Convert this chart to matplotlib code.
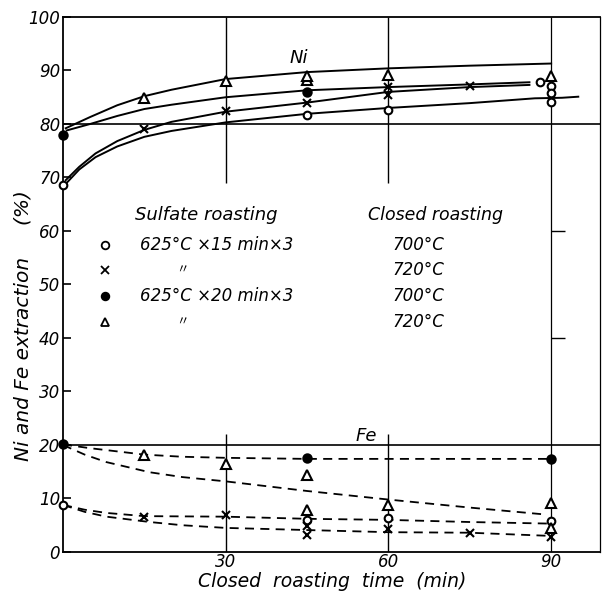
import matplotlib
matplotlib.use('Agg')
from matplotlib import pyplot as plt

# --- measured points (Ni, upper group) ---
ni_open_x = [0, 45, 60, 88, 90, 90, 90]
ni_open_y = [68.6, 81.7, 82.6, 87.9, 87.1, 85.8, 84.1]
ni_cross_x = [15, 30, 45, 60, 60, 75]
ni_cross_y = [79.0, 82.4, 83.9, 85.4, 86.9, 87.1]
ni_dot_x = [0, 45]
ni_dot_y = [78.0, 86.0]
ni_tri_x = [15, 30, 45, 45, 60, 90]
ni_tri_y = [84.8, 88.0, 88.2, 89.0, 89.2, 89.0]

# --- measured points (Fe, lower group) ---
fe_open_x = [0, 45, 60, 90]
fe_open_y = [8.8, 6.0, 6.4, 5.8]
fe_cross_x = [15, 30, 45, 45, 60, 75, 90]
fe_cross_y = [6.5, 7.0, 4.9, 3.2, 4.3, 3.6, 2.8]
fe_dot_x = [0, 45, 90]
fe_dot_y = [20.2, 17.5, 17.4]
fe_tri_x = [15, 30, 45, 45, 60, 90, 90]
fe_tri_y = [18.1, 16.4, 14.4, 7.9, 8.7, 9.2, 4.5]

# --- hand drawn curves ---
ni_c1_x = [0.5, 5, 10, 15, 20, 30, 45, 60, 75, 90]
ni_c1_y = [79.2, 81.3, 83.5, 85.2, 86.4, 88.4, 89.7, 90.4, 90.9, 91.3]
ni_c2_x = [0.7, 5, 10, 15, 20, 30, 45, 60, 75, 86]
ni_c2_y = [78.8, 80.0, 81.5, 82.8, 83.6, 85.0, 86.3, 86.9, 87.4, 87.8]
ni_c3_x = [0.5, 3, 6, 10, 15, 20, 30, 45, 60, 75, 86]
ni_c3_y = [69.5, 72.0, 74.5, 76.8, 78.9, 80.4, 82.3, 84.0, 86.0, 86.9, 87.3]
ni_c4_x = [0.5, 3, 6, 10, 15, 20, 30, 45, 60, 75, 87, 92, 95]
ni_c4_y = [68.8, 71.5, 73.8, 75.8, 77.6, 78.7, 80.3, 81.9, 83.0, 83.9, 84.8, 84.9, 85.1]

fe_c1_x = [0, 5, 10, 15, 22, 30, 45, 60, 75, 90]
fe_c1_y = [20.1, 19.4, 18.8, 18.2, 17.8, 17.6, 17.4, 17.4, 17.4, 17.4]
fe_c2_x = [0, 4, 8, 16, 22, 30, 45, 60, 75, 89]
fe_c2_y = [20.0, 18.2, 16.8, 14.9, 14.0, 13.2, 11.4, 9.8, 8.3, 7.0]
fe_c3_x = [0, 4, 8, 15, 30, 45, 60, 75, 90]
fe_c3_y = [8.8, 7.9, 7.3, 6.7, 6.6, 6.2, 6.0, 5.6, 5.3]
fe_c4_x = [0, 4, 8, 16, 22, 30, 45, 60, 75, 90]
fe_c4_y = [8.8, 7.5, 6.6, 5.6, 5.0, 4.5, 4.1, 3.7, 3.6, 3.0]

y_ticks = [0, 10, 20, 30, 40, 50, 60, 70, 80, 90, 100]
x_ticks = [30, 60, 90]

legend_sulfate = ['625°C ×15 min×3', '〃', '625°C ×20 min×3', '〃']
legend_closed = ['700°C', '720°C', '700°C', '720°C']
legend_marker = ['o', 'x', 'o', '^']
legend_fill = ['white', 'black', 'black', 'white']

plt.rcParams['font.family'] = ['DejaVu Sans']
plt.rcParams['font.style'] = 'italic'

fig = plt.figure(figsize=(6.04, 5.92), dpi=100)
ax = fig.add_axes([0.1043, 0.0676, 0.889, 0.9037])
ax.set_xlim(0, 99)
ax.set_ylim(0, 100)

# frame / grid as drawn
for s in ['left', 'bottom', 'top', 'right']:
    ax.spines[s].set_linewidth(1.3)
ax.spines['right'].set_linewidth(0.9)
ax.axhline(80, color='black', lw=1.2)
ax.axhline(20, color='black', lw=1.2)
ax.vlines([30, 60], 69, 100, color='black', lw=1.0)
ax.vlines([30, 60], 0, 22, color='black', lw=1.0)
ax.vlines([90], 0, 100, color='black', lw=0.9)
ax.hlines([40, 60], 90, 92.5, color='black', lw=1.0)

lw = 1.4
for xs, ys in [(ni_c1_x, ni_c1_y), (ni_c2_x, ni_c2_y), (ni_c3_x, ni_c3_y), (ni_c4_x, ni_c4_y)]:
    ax.plot(xs, ys, color='black', lw=lw, zorder=2)
for xs, ys in [(fe_c1_x, fe_c1_y), (fe_c2_x, fe_c2_y), (fe_c3_x, fe_c3_y), (fe_c4_x, fe_c4_y)]:
    ax.plot(xs, ys, color='black', lw=1.3, dashes=(5, 3.5), zorder=2)

def pts(xs, ys, m, fc, ms):
    ax.plot(xs, ys, ls='none', marker=m, markersize=ms, markerfacecolor=fc,
            markeredgecolor='black', markeredgewidth=1.5, color='black', zorder=4,
            clip_on=False)

pts(ni_open_x, ni_open_y, 'o', 'white', 5.5)
pts(ni_cross_x, ni_cross_y, 'x', 'black', 5.5)
pts(ni_dot_x, ni_dot_y, 'o', 'black', 6)
pts(ni_tri_x, ni_tri_y, '^', 'white', 7)
pts(fe_open_x, fe_open_y, 'o', 'white', 5.5)
pts(fe_cross_x, fe_cross_y, 'x', 'black', 5.5)
pts(fe_dot_x, fe_dot_y, 'o', 'black', 6)
pts(fe_tri_x, fe_tri_y, '^', 'white', 7)

ax.set_yticks(y_ticks)
ax.set_yticklabels([str(v) for v in y_ticks], fontsize=12, style='italic')
ax.set_xticks(x_ticks)
ax.set_xticklabels([str(v) for v in x_ticks], fontsize=12, style='italic')
ax.tick_params(axis='y', direction='in', length=6, width=1.2, pad=2)
ax.tick_params(axis='x', direction='in', length=0, pad=1)

ax.text(43.5, 92.3, 'Ni', fontsize=13, style='italic', ha='center', va='center')
ax.text(56, 21.6, 'Fe', fontsize=13, style='italic', ha='center', va='center')

# legend block written inside the chart
ax.text(13.3, 63.0, 'Sulfate roasting', fontsize=13, style='italic', va='center')
ax.text(56.2, 63.0, 'Closed roasting', fontsize=12.5, style='italic', va='center')
rows_y = [57.4, 52.7, 47.9, 43.0]
for i in range(4):
    ax.plot([7.7], [rows_y[i]], ls='none', marker=legend_marker[i], markersize=5.5,
            markerfacecolor=legend_fill[i], markeredgecolor='black', markeredgewidth=1.3)
    if legend_sulfate[i] == '〃':
        ax.text(22, rows_y[i], '〃', fontsize=9, va='center', ha='center',
                family=['Noto Sans CJK JP', 'DejaVu Sans'])
    else:
        ax.text(14.2, rows_y[i], legend_sulfate[i], fontsize=12, style='italic', va='center')
    ax.text(60.8, rows_y[i], legend_closed[i], fontsize=12, style='italic', va='center')

fig.text(0.038, 0.45, 'Ni and Fe extraction     (%)', rotation=90, fontsize=14.5,
         style='italic', ha='center', va='center')
fig.text(0.55, 0.018, 'Closed  roasting  time  (min)', fontsize=13.5, style='italic',
         ha='center', va='center')

fig.savefig('out.png', dpi=100, facecolor='white')
